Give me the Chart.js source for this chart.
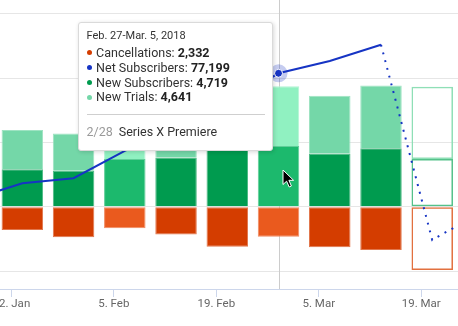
<!DOCTYPE html>
<html>
<head>
<meta charset="utf-8">
<script src="https://cdn.jsdelivr.net/npm/chart.js@4.4.1/dist/chart.umd.min.js"></script>
<style>
  html, body { margin: 0; padding: 0; background: #fff; }
  #wrap { position: relative; width: 458px; height: 326px; overflow: hidden; font-family: Roboto, sans-serif; }
  #tip {
    position: absolute; top: 22px; width: 195px; box-sizing: border-box;
    background: #fff; border: 1px solid #dadada; border-radius: 3px;
    box-shadow: 1px 1px 4px rgba(0, 0, 0, 0.16);
    padding: 6px 7px 11px 7.5px; color: #333;
  }
  #tip .title { font-size: 11px; line-height: 14px; }
  #tip .rows { margin-top: 3px; }
  #tip .row { font-size: 12.5px; line-height: 14.8px; white-space: nowrap; }
  #tip .row b { color: #222; }
  #tip .dot { display: inline-block; width: 5px; height: 5px; border-radius: 50%; margin: 0 4.3px 1.5px 0.3px; vertical-align: middle; }
  #tip .sep { margin-top: 9px; height: 1px; background: #cfcfcf; }
  #tip .note { margin-top: 9.5px; font-size: 12.5px; line-height: 14px; }
  #tip .note span { color: #9a9a9a; margin-right: 6px; }
  #cursor { position: absolute; left: 282px; top: 169px; }
</style>
</head>
<body>
<div id="wrap">
  <canvas id="chart" width="458" height="326"></canvas>
  <div id="tip"></div>
  <svg id="cursor" width="14" height="20" viewBox="0 0 14 20">
    <path d="M1 1 L1 15.5 L4.6 12.2 L7.2 18 L9.4 17 L6.9 11.3 L11.6 11.3 Z" fill="#000" stroke="#fff" stroke-width="1"/>
  </svg>
</div>
<script>
// weeks of 2018, start day counted from Jan 1 (= 1); first and last week only feed the line
const weekStart = [16, 23, 30, 37, 44, 51, 58, 65, 72, 79, 86];
const cancellations = [null, 1800, 2370, 1670, 2140, 3100, 2332, 3140, 3350, 4900, null];
const newSubscribers = [null, 2910, 2800, 3710, 3840, 5000, 4719, 4150, 4540, 3710, null];
const newTrials = [null, 3050, 2900, 3400, 3700, 4200, 4641, 4470, 4890, 5610, null];
const netSubscribers = [67400, 68660, 69050, 71170, 72880, 74820, 77199, 78150, 79420, 64260, 66510];

const tickDays = [22, 36, 50, 64, 78];
const tickLabels = ['22. Jan', '5. Feb', '19. Feb', '5. Mar', '19. Mar'];
const gridValues = [-5000, 0, 5000, 10000, 15000];

const hoverWeek = 6;
const tooltipTitle = 'Feb. 27-Mar. 5, 2018';
const noteDate = '2/28';
const noteText = 'Series X Premiere';

const highlightWeeks = [3, 6];
const projectedWeek = 9;

// [fill, highlighted fill, edge, highlighted edge, projected outline]
const colors = {
    cancel: ['#d43d00', '#ea5a1e', '#e1774d', '#f08b62', '#e2703f'],
    subs: ['#009b4f', '#1cb96d', '#4cb984', '#60ce99', '#55c18a'],
    trial: ['#74d7a8', '#90f1c1', '#9ee3c2', '#b1f5d4', '#8fdfb6'],
    net: '#1634c4'
};

const fill = (c) => weekStart.map((_, i) =>
    i === projectedWeek ? 'rgba(0,0,0,0)' : highlightWeeks.includes(i) ? c[1] : c[0]);
const edge = (c) => weekStart.map((_, i) =>
    i === projectedWeek ? c[4] : highlightWeeks.includes(i) ? c[3] : c[2]);
// one light edge at each boundary between stacked pieces
const edgeWidth = (sides) => (c) => c.dataIndex === projectedWeek ? 1.5 : sides;
const points = (values, sign) => weekStart.map((d, i) =>
    ({ x: d + 0.5, y: values[i] === null ? null : sign * values[i] }));

const hoverMarks = {
    id: 'hoverMarks',
    beforeDatasetsDraw(chart) {
        const { ctx, chartArea, scales } = chart;
        const x = Math.round(scales.x.getPixelForValue(weekStart[hoverWeek] + 0.5)) + 0.5;
        ctx.save();
        ctx.strokeStyle = '#cccccc';
        ctx.lineWidth = 1;
        ctx.beginPath();
        ctx.moveTo(x, chartArea.top);
        ctx.lineTo(x, chartArea.bottom);
        ctx.stroke();
        ctx.restore();
    },
    afterDatasetsDraw(chart) {
        const { ctx } = chart;
        const pt = chart.getDatasetMeta(0).data[hoverWeek];
        ctx.save();
        ctx.fillStyle = 'rgba(22, 52, 196, 0.25)';
        ctx.beginPath();
        ctx.arc(pt.x, pt.y, 9, 0, Math.PI * 2);
        ctx.fill();
        ctx.fillStyle = colors.net;
        ctx.strokeStyle = '#ffffff';
        ctx.lineWidth = 1;
        ctx.beginPath();
        ctx.arc(pt.x, pt.y, 4, 0, Math.PI * 2);
        ctx.fill();
        ctx.stroke();
        ctx.restore();
    }
};

const chart = new Chart(document.getElementById('chart'), {
    type: 'bar',
    data: {
        datasets: [
            {
                type: 'line',
                label: 'Net Subscribers',
                data: points(netSubscribers, 1),
                yAxisID: 'y2',
                order: 0,
                borderColor: colors.net,
                borderWidth: 2,
                pointRadius: 0,
                tension: 0,
                segment: {
                    borderDash: c => c.p0DataIndex >= 8 ? [2, 6] : undefined
                }
            },
            {
                label: 'Cancellations',
                data: points(cancellations, -1),
                order: 1,
                backgroundColor: fill(colors.cancel),
                borderColor: edge(colors.cancel),
                borderWidth: edgeWidth({ top: 1, bottom: 1, left: 1, right: 1 }),
                borderSkipped: false
            },
            {
                label: 'New Subscribers',
                data: points(newSubscribers, 1),
                order: 1,
                backgroundColor: fill(colors.subs),
                borderColor: edge(colors.subs),
                borderWidth: edgeWidth({ top: 1, bottom: 0, left: 1, right: 1 }),
                borderSkipped: false
            },
            {
                label: 'New Trials',
                data: points(newTrials, 1),
                order: 1,
                backgroundColor: fill(colors.trial),
                borderColor: edge(colors.trial),
                borderWidth: edgeWidth({ top: 1, bottom: 0, left: 1, right: 1 }),
                borderSkipped: false
            }
        ]
    },
    options: {
        responsive: false,
        animation: false,
        devicePixelRatio: 1,
        layout: { padding: 0 },
        datasets: { bar: { barPercentage: 1, categoryPercentage: 0.81 } },
        plugins: { legend: { display: false }, tooltip: { enabled: false } },
        events: [],
        scales: {
            x: {
                type: 'linear',
                min: 20.45,
                max: 83.02,
                stacked: true,
                offset: false,
                afterBuildTicks: s => { s.ticks = tickDays.map(v => ({ value: v })); },
                afterFit: s => { s.height = 37; s.paddingLeft = 0; s.paddingRight = 0; },
                ticks: {
                    callback: v => tickLabels[tickDays.indexOf(v)],
                    autoSkip: false,
                    maxRotation: 0,
                    padding: 0,
                    color: '#666666',
                    font: { family: 'Roboto', size: 11.5 }
                },
                grid: { drawOnChartArea: false, offset: false, tickLength: 8, color: '#ccd6eb' },
                border: { color: '#ccd6eb' }
            },
            y: {
                min: -6380,
                max: 16060,
                stacked: true,
                afterBuildTicks: s => { s.ticks = gridValues.map(v => ({ value: v })); },
                afterFit: s => { s.width = 0; s.paddingTop = 0; s.paddingBottom = 0; },
                ticks: { display: false },
                grid: { color: '#e6e6e6', drawTicks: false },
                border: { display: false }
            },
            y2: {
                display: false,
                position: 'right',
                min: 60450,
                max: 82890
            }
        }
    },
    plugins: [hoverMarks]
});

// Tooltip for the hovered week, filled from the series arrays
const fmt = v => v.toLocaleString('en-US');
const rows = [
    ['Cancellations', colors.cancel[0], cancellations[hoverWeek]],
    ['Net Subscribers', colors.net, netSubscribers[hoverWeek]],
    ['New Subscribers', colors.subs[0], newSubscribers[hoverWeek]],
    ['New Trials', colors.trial[0], newTrials[hoverWeek]]
];
const tip = document.getElementById('tip');
tip.innerHTML =
    '<div class="title">' + tooltipTitle + '</div>' +
    '<div class="rows">' + rows.map(r =>
        '<div class="row"><span class="dot" style="background:' + r[1] + '"></span>' +
        r[0] + ': <b>' + fmt(r[2]) + '</b></div>').join('') + '</div>' +
    '<div class="sep"></div>' +
    '<div class="note"><span>' + noteDate + '</span>' + noteText + '</div>';

const hovered = chart.getDatasetMeta(0).data[hoverWeek];
tip.style.left = (hovered.x - 5.5 - tip.offsetWidth) + 'px';
</script>
</body>
</html>
